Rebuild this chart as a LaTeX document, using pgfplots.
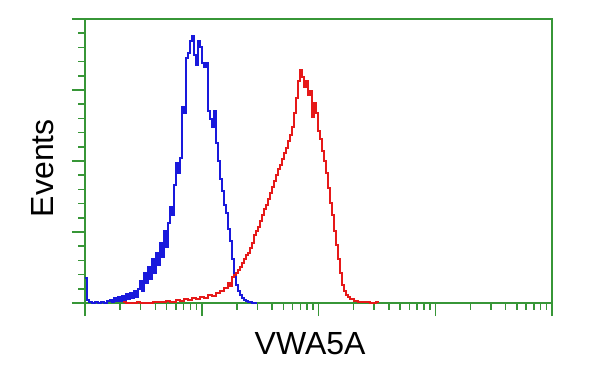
\documentclass[border=0pt]{standalone}
\usepackage{pgfplots}
\pgfplotsset{compat=1.18}
\usepackage{pgfplotstable}
\usepackage{fontspec}
\setmainfont{Liberation Sans}
\definecolor{frame}{RGB}{55,150,55}
\definecolor{hblue}{RGB}{25,25,220}
\definecolor{hred}{RGB}{230,25,25}
\pgfplotstableread{
px h
85 25
87 3
89 1
92 0
95 1
98 0
101 1
104 0
107 2
110 3
112 1
114 5
116 2
118 6
120 2
122 7
124 3
126 9
128 4
130 10
132 5
134 12
136 6
138 14
140 22
142 12
144 30
146 20
148 36
150 24
152 44
154 30
156 50
158 38
160 60
162 46
164 72
166 56
168 80
170 96
172 88
174 118
176 140
178 130
180 145
182 196
184 190
186 245
188 250
190 262
192 267
194 248
196 238
198 262
200 256
202 240
204 236
206 240
208 192
210 184
212 176
214 192
216 160
218 142
220 124
222 112
224 98
226 90
228 74
230 62
232 44
234 30
236 18
238 12
240 8
242 5
244 3
246 2
248 1
250 1
252 0
257 0
}\blue
\pgfplotstableread{
px h
123 1
126 0
137 1
140 0
153 1
160 1
166 2
170 1
176 3
180 2
184 4
188 3
192 5
196 4
200 6
204 5
208 8
212 7
216 10
220 12
224 15
228 20
230 17
232 26
234 28
236 30
238 33
240 36
242 40
244 44
246 48
248 50
250 55
252 60
254 68
256 72
258 76
260 82
262 88
264 94
266 98
268 104
270 110
272 116
274 122
276 128
278 134
280 138
282 144
284 150
286 155
288 162
290 168
292 176
294 190
296 205
298 222
300 233
302 226
304 216
306 222
308 208
310 212
312 186
314 200
316 190
318 172
320 164
322 152
324 142
326 130
328 115
330 100
332 88
334 72
336 58
338 44
340 30
342 18
344 12
346 8
348 6
350 4
354 2
358 1
364 1
370 0
376 1
378 0
}\red
\begin{document}
\begin{tikzpicture}
\useasboundingbox (-85pt,-72pt) rectangle (515pt,303pt);
\begin{axis}[
  at={(0pt,0pt)}, anchor=south west,
  width=467pt, height=284pt, scale only axis,
  xmin=85, xmax=552, ymin=0, ymax=284,
  xtick={85,201.75,318.5,435.25,552},
  minor xtick={120.15,140.70,155.29,166.60,175.85,183.67,190.44,196.41,
               236.90,257.45,272.04,283.35,292.60,300.42,307.19,313.16,
               353.65,374.20,388.79,400.10,409.35,417.17,423.94,429.91,
               470.40,490.95,505.54,516.85,526.10,533.92,540.69,546.66},
  ytick={0,71,142,213,284},
  minor y tick num=4,
  xticklabels={}, yticklabels={},
  tick pos=left, tick align=outside,
  major tick length=13pt, minor tick length=6.5pt,
  axis line style={draw=frame, line width=2.8pt},
  every tick/.style={draw=frame, line width=1.5pt},
  xlabel={VWA5A}, ylabel={Events},
  label style={font=\fontsize{32}{38}\selectfont},
  xlabel style={at={(axis description cs:0.482,-0.183)}, anchor=base},
  ylabel style={at={(axis description cs:-0.0685,0.475)}, anchor=base},
]
\addplot[const plot, draw=hblue, line width=1.8pt] table[x=px,y=h] {\blue};
\addplot[const plot, draw=hred, line width=1.4pt] table[x=px,y=h] {\red};
\end{axis}
\end{tikzpicture}
\end{document}
